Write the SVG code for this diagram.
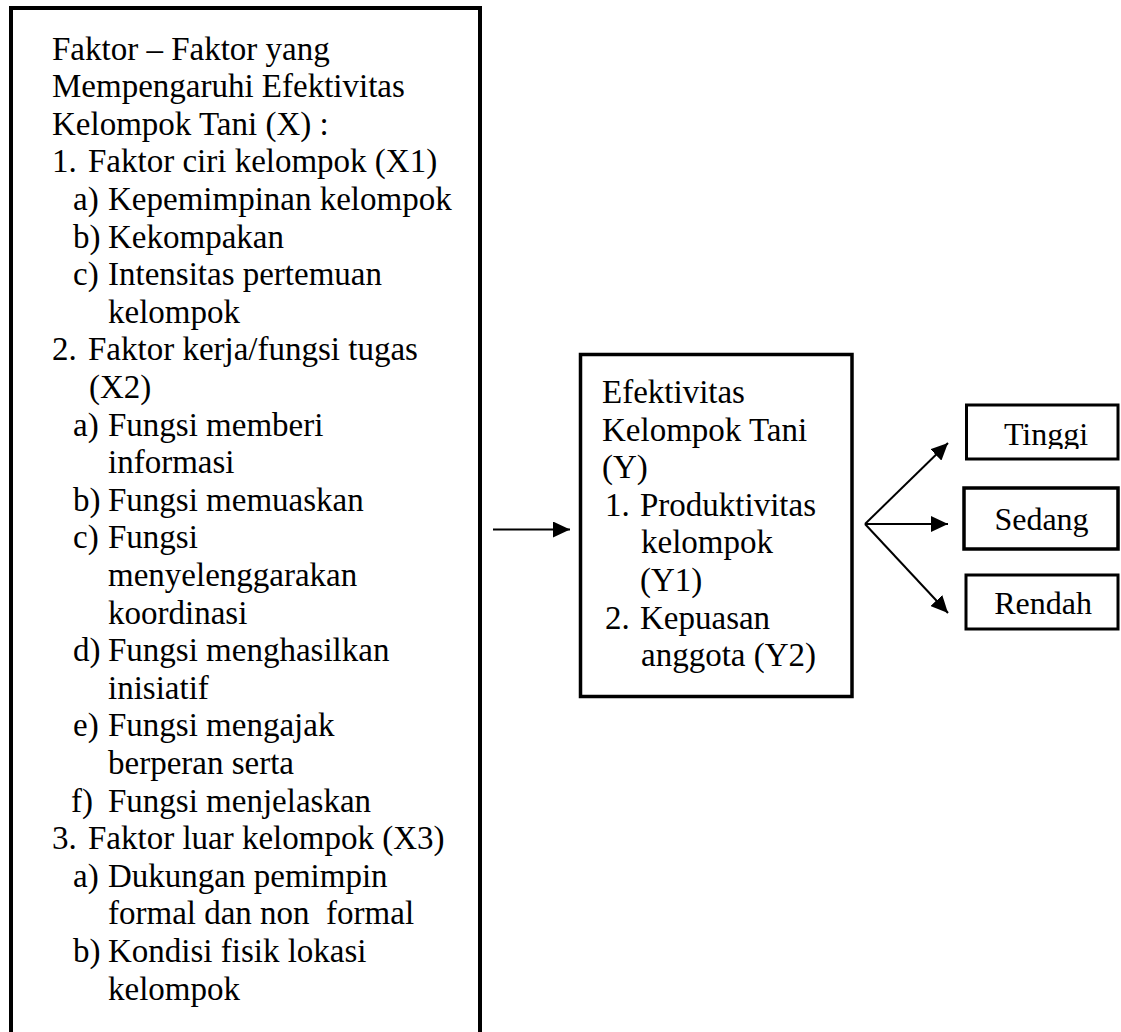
<svg xmlns="http://www.w3.org/2000/svg" width="1121" height="1032" viewBox="0 0 1121 1032" font-family="'Liberation Serif', Tinos, 'Times New Roman', 'DejaVu Serif', serif">
<defs>
<style>
text{font-family:'Liberation Serif', Tinos, 'Times New Roman', 'DejaVu Serif', serif;font-size:33px;fill:#000}
.r{font-size:32px;text-anchor:middle}
.box{fill:#fff;stroke:#000}
.conn{stroke:#000;stroke-width:2;fill:none}
</style>
<marker id="ah" markerUnits="userSpaceOnUse" markerWidth="18" markerHeight="16" refX="17" refY="8" orient="auto">
<path d="M0,0 L17,8 L0,16 Z" fill="#000"/>
</marker>
<clipPath id="clipT"><rect x="960" y="400" width="161" height="49"/></clipPath>
</defs>
<rect width="1121" height="1032" fill="#fff"/>
<g id="node-x">
<rect class="box" x="11" y="8" width="469" height="1100" stroke-width="4"/>
<text x="52" y="59.5">Faktor – Faktor yang</text>
<text x="52" y="97.1">Mempengaruhi Efektivitas</text>
<text x="52" y="134.7">Kelompok Tani (X) :</text>
<text x="52" y="172.3">1.</text><text x="88" y="172.3">Faktor ciri kelompok (X1)</text>
<text x="73" y="209.9">a)</text><text x="108" y="209.9">Kepemimpinan kelompok</text>
<text x="73" y="247.5">b)</text><text x="108" y="247.5">Kekompakan</text>
<text x="73" y="285.1">c)</text><text x="108" y="285.1">Intensitas pertemuan</text>
<text x="108" y="322.7">kelompok</text>
<text x="52" y="360.3">2.</text><text x="88" y="360.3">Faktor kerja/fungsi tugas</text>
<text x="89" y="397.9">(X2)</text>
<text x="73" y="435.5">a)</text><text x="108" y="435.5">Fungsi memberi</text>
<text x="108" y="473.1">informasi</text>
<text x="73" y="510.7">b)</text><text x="108" y="510.7">Fungsi memuaskan</text>
<text x="73" y="548.3">c)</text><text x="108" y="548.3">Fungsi</text>
<text x="108" y="585.9">menyelenggarakan</text>
<text x="108" y="623.5">koordinasi</text>
<text x="73" y="661.1">d)</text><text x="108" y="661.1">Fungsi menghasilkan</text>
<text x="108" y="698.7">inisiatif</text>
<text x="73" y="736.3">e)</text><text x="108" y="736.3">Fungsi mengajak</text>
<text x="108" y="773.9">berperan serta</text>
<text x="71" y="811.5">f)</text><text x="108" y="811.5">Fungsi menjelaskan</text>
<text x="52" y="849.1">3.</text><text x="88" y="849.1">Faktor luar kelompok (X3)</text>
<text x="73" y="886.7">a)</text><text x="108" y="886.7">Dukungan pemimpin</text>
<text x="108" y="924.3" xml:space="preserve">formal dan non  formal</text>
<text x="73" y="961.9">b)</text><text x="108" y="961.9">Kondisi fisik lokasi</text>
<text x="108" y="999.5">kelompok</text>
</g>
<g id="node-y">
<rect class="box" x="580.5" y="354.5" width="271.5" height="342" stroke-width="3.5"/>
<text x="602" y="403">Efektivitas</text>
<text x="602" y="440.6">Kelompok Tani</text>
<text x="602" y="478.2">(Y)</text>
<text x="605" y="515.8">1.</text><text x="640" y="515.8">Produktivitas</text>
<text x="641" y="553.4">kelompok</text>
<text x="640" y="591">(Y1)</text>
<text x="605" y="628.6">2.</text><text x="640" y="628.6">Kepuasan</text>
<text x="641" y="666.2">anggota (Y2)</text>
</g>
<g id="node-tinggi">
<rect class="box" x="966.5" y="405" width="151.5" height="54" stroke-width="3"/>
<text class="r" x="1046" y="445" clip-path="url(#clipT)">Tinggi</text>
</g>
<g id="node-sedang">
<rect class="box" x="964" y="488" width="154" height="61" stroke-width="3.5"/>
<text class="r" x="1041.5" y="530">Sedang</text>
</g>
<g id="node-rendah">
<rect class="box" x="966" y="575" width="152" height="54" stroke-width="3"/>
<text class="r" x="1043" y="614">Rendah</text>
</g>
<g id="connectors">
<line class="conn" x1="493" y1="529.5" x2="570" y2="529.5" marker-end="url(#ah)"/>
<line class="conn" x1="865" y1="524" x2="948" y2="443" marker-end="url(#ah)"/>
<line class="conn" x1="865" y1="524" x2="948" y2="524" marker-end="url(#ah)"/>
<line class="conn" x1="865" y1="524" x2="948" y2="613" marker-end="url(#ah)"/>
</g>
</svg>
